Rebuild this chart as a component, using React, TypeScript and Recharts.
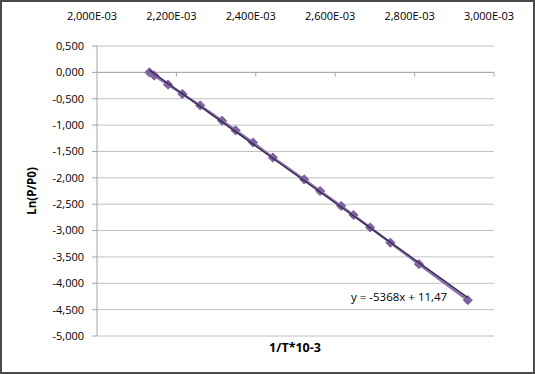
import React from "react";
import {
  ScatterChart,
  Scatter,
  XAxis,
  YAxis,
  CartesianGrid,
  ReferenceLine,
  Label,
} from "recharts";

// 1/T values and Ln(P/P0)
const invT = [
  0.002132, 0.002144, 0.002179, 0.002215, 0.00226, 0.002315, 0.002349,
  0.002393, 0.002443, 0.002522, 0.002562, 0.002615, 0.002646, 0.002688,
  0.002739, 0.002811, 0.002934,
];
const lnP = [
  0, -0.06, -0.234, -0.41, -0.627, -0.918, -1.1, -1.33, -1.616, -2.03, -2.25,
  -2.534, -2.705, -2.94, -3.23, -3.637, -4.32,
];
const xTicks = [0.002, 0.0022, 0.0024, 0.0026, 0.0028, 0.003];
const yTicks = [
  0.5, 0, -0.5, -1, -1.5, -2, -2.5, -3, -3.5, -4, -4.5, -5,
];
const equation = "y = -5368x + 11,47";

const FONT = "'Open Sans', sans-serif";
const PURPLE = "#7F63A1";
const TREND = "#3B2D52";
const GRID = "#C0C0C0";
const AXIS = "#A6A6A6";

const points = invT.map((x, i) => ({ x, y: lnP[i] }));

// least squares trendline over the data range
function trendline() {
  const n = points.length;
  const mx = invT.reduce((a, b) => a + b, 0) / n;
  const my = lnP.reduce((a, b) => a + b, 0) / n;
  let sxy = 0;
  let sxx = 0;
  points.forEach((p) => {
    sxy += (p.x - mx) * (p.y - my);
    sxx += (p.x - mx) * (p.x - mx);
  });
  const slope = sxy / sxx;
  const icpt = my - slope * mx;
  const x0 = Math.min(...invT);
  const x1 = Math.max(...invT);
  return [
    { x: x0, y: slope * x0 + icpt },
    { x: x1, y: slope * x1 + icpt },
  ];
}

const fmtX = (v: number) => (v * 1000).toFixed(3).replace(".", ",") + "E-03";
const fmtY = (v: number) => v.toFixed(3).replace(".", ",");

const XTick = (props: any) => (
  <text
    x={props.x - 5}
    y={props.y - 18}
    textAnchor="middle"
    fontSize={11}
    fontFamily={FONT}
    fill="#000"
  >
    {fmtX(props.payload.value)}
  </text>
);

const Diamond = (props: any) => {
  const { cx, cy } = props;
  const r = 4.6;
  return (
    <polygon
      points={`${cx},${cy - r} ${cx + r},${cy} ${cx},${cy + r} ${cx - r},${cy}`}
      fill={PURPLE}
      stroke={PURPLE}
    />
  );
};

export default function App() {
  return (
    <div
      style={{
        position: "absolute",
        left: 0,
        top: 0,
        width: 535,
        height: 374,
        background: "#fff",
        fontFamily: FONT,
      }}
    >
      <ScatterChart
        width={535}
        height={374}
        margin={{ top: 16, right: 41, bottom: 38, left: 5 }}
      >
        <CartesianGrid vertical={false} stroke={GRID} />
        <XAxis
          type="number"
          dataKey="x"
          orientation="top"
          domain={[0.002, 0.003]}
          ticks={xTicks}
          interval={0}
          height={30}
          axisLine={false}
          tickLine={false}
          tick={XTick}
          allowDataOverflow
        />
        <YAxis
          type="number"
          dataKey="y"
          domain={[-5, 0.5]}
          ticks={yTicks}
          interval={0}
          width={92}
          axisLine={{ stroke: AXIS }}
          tickLine={{ stroke: AXIS }}
          tickSize={5}
          tickMargin={8}
          tick={{ fontSize: 11, fill: "#000", fontFamily: FONT }}
          tickFormatter={fmtY}
          allowDataOverflow
        >
          <Label
            value="Ln(P/P0)"
            angle={-90}
            position="insideLeft"
            offset={27}
            style={{
              textAnchor: "middle",
              fontWeight: "bold",
              fontSize: 11.5,
              fill: "#000",
              fontFamily: FONT,
            }}
          />
        </YAxis>

        {/* x axis crosses at y = 0 */}
        <ReferenceLine y={0} stroke={AXIS} />
        {xTicks.slice(1).map((t) => (
          <ReferenceLine
            key={t}
            segment={[
              { x: t, y: 0 },
              { x: t, y: -0.08 },
            ]}
            stroke={AXIS}
          />
        ))}

        <Scatter
          data={points}
          line={{ stroke: "#8A70B0", strokeWidth: 2.5 }}
          shape={Diamond}
          isAnimationActive={false}
        />
        <Scatter
          data={trendline()}
          line={{ stroke: TREND, strokeWidth: 1.5 }}
          shape={() => <g />}
          isAnimationActive={false}
        />
      </ScatterChart>

      <div
        style={{
          position: "absolute",
          left: 195,
          top: 340,
          width: 200,
          textAlign: "center",
          fontSize: 12.5,
          lineHeight: "16px",
          fontWeight: "bold",
        }}
      >
        1/T*10-3
      </div>
      <div
        style={{
          position: "absolute",
          left: 351,
          top: 289,
          fontSize: 11.5,
          lineHeight: "15px",
          whiteSpace: "nowrap",
        }}
      >
        {equation}
      </div>

      {/* chart frame */}
      <div
        style={{
          position: "absolute",
          left: 0,
          top: 0,
          width: 535,
          height: 374,
          boxSizing: "border-box",
          border: "2px solid #4a4a4a",
          pointerEvents: "none",
        }}
      />
    </div>
  );
}
